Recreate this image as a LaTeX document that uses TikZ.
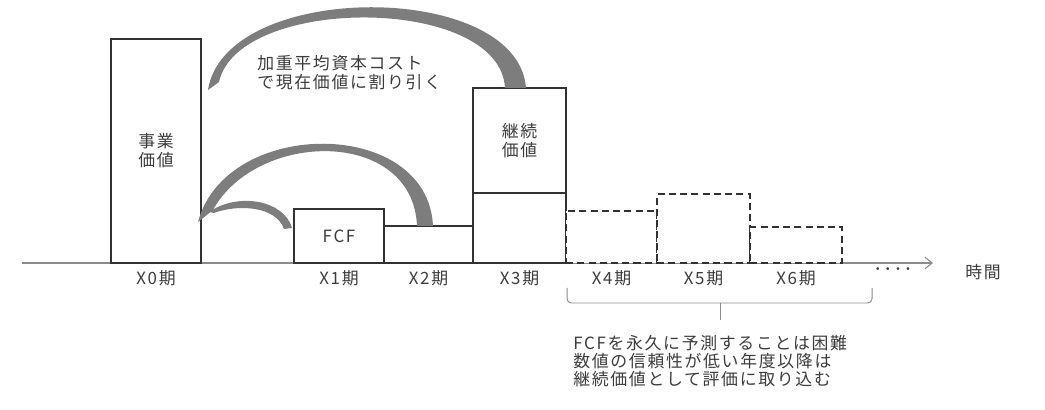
\documentclass[tikz,border=0pt]{standalone}
\usepackage{fontspec}
\setmainfont[LetterSpace=10]{Noto Sans CJK JP}
\usetikzlibrary{positioning,calc,arrows.meta}
\definecolor{arcgray}{RGB}{125,125,125}
\definecolor{txtgray}{RGB}{60,60,60}
\definecolor{linegray}{RGB}{50,50,50}
\begin{document}
\begin{tikzpicture}[
    bar/.style={draw=linegray, line width=1.3pt, fill=white, anchor=south west, inner sep=0pt, outer sep=0pt, text=txtgray, align=center, font=\fontsize{12}{13.5}\selectfont},
    est/.style={bar, dash pattern=on 5pt off 3pt},
    lbl/.style={text=txtgray, inner sep=0pt, font=\fontsize{12}{13.5}\selectfont},
    wave/.style={fill=arcgray, draw=none}
]
    \useasboundingbox (0,-3.675) rectangle (26.125,6.575);
    % Axis
    \coordinate (o) at (0.55,0);
    \coordinate (t) at (23.325,0);
    \draw[black!45, line width=0.8pt, -{Straight Barb[length=5pt,width=8pt]}] (o) -- (t);
    % Nodes
    \node[bar, minimum width=2.25cm, minimum height=5.6cm] (x0) at (2.775,0) {事業\\価値};
    \node[bar, minimum width=2.25cm, minimum height=1.35cm] (fcf) at (7.35,0) {FCF};
    \node[bar, minimum width=2.225cm, minimum height=0.925cm] (x2) at (9.6,0) {};
    \node[bar, minimum width=2.325cm, minimum height=1.75cm] (x3) at (11.825,0) {};
    \node[bar, minimum width=2.325cm, minimum height=2.625cm] (tv) at (11.825,1.75) {継続\\価値};
    \node[est, minimum width=2.275cm, minimum height=1.3cm] (x4) at (14.15,0) {};
    \node[est, minimum width=2.325cm, minimum height=1.725cm] (x5) at (16.425,0) {};
    \node[est, minimum width=2.3cm, minimum height=0.9cm] (x6) at (18.75,0) {};
    % Period labels
    \node[lbl, below=0.18cm of x0] (l0) {X0期};
    \node[lbl, below=0.18cm of fcf] (l1) {X1期};
    \node[lbl, below=0.18cm of x2] (l2) {X2期};
    \node[lbl, below=0.18cm of x3] (l3) {X3期};
    \node[lbl, below=0.18cm of x4] (l4) {X4期};
    \node[lbl, below=0.18cm of x5] (l5) {X5期};
    \node[lbl, below=0.18cm of x6] (l6) {X6期};
    \node[lbl] (dots) at (22.325,-0.225) {････};
    \node[lbl] (time) at (24.575,-0.225) {時間};
    \node[lbl, anchor=west, align=left] (rate) at (6.425,4.76) {加重平均資本コスト\\で現在価値に割り引く};
    \node[lbl, anchor=west, align=left, font=\fontsize{12}{12.8}\selectfont] (note) at (14.325,-2.45)
        {FCFを永久に予測することは困難\\数値の信頼性が低い年度以降は\\継続価値として評価に取り込む};
    % Brace
    \coordinate (bl) at (14.175,-0.625);
    \coordinate (br) at (21.8,-0.625);
    \coordinate (bm) at (18.0,-1.0);
    \coordinate (bt) at (18.0,-1.425);
    \draw[black!45, line width=0.7pt, rounded corners=3pt] (bl) |- (bm) -| (br);
    \draw[black!45, line width=0.7pt] (bm) -- (bt);
    % Edges
    \fill[wave] ($(tv.north west)+(1.325,0)$) .. controls +(-0.2,2.7) and +(0.425,2.75) .. ($(x0.north east)+(0.175,-1.275)$)
        -- ($(x0.north east)+(0.45,-1.075)$) .. controls +(0.475,2.175) and +(-0.125,2.325) .. ($(tv.north west)+(0.8,0)$) -- cycle;
    \fill[wave] ($(x2.north west)+(1.225,0)$) .. controls +(-0.125,2.725) and +(0.7,2.625) .. ($(x0.south east)+(-0.075,1.025)$)
        -- ($(x0.south east)+(0.3,1.325)$) .. controls +(1.1,2.0) and +(-0.1,2.45) .. ($(x2.north west)+(0.825,0)$) -- cycle;
    \fill[wave] ($(fcf.south west)+(-0.05,0.875)$) .. controls +(-0.2,0.7) and +(0.725,0.5) .. ($(x0.south east)+(0.2,1.275)$)
        -- ($(x0.south east)+(0.325,1.25)$) .. controls +(0.6,0.225) and +(-0.2,0.575) .. ($(fcf.south west)+(-0.25,0.85)$) -- cycle;
\end{tikzpicture}
\end{document}
